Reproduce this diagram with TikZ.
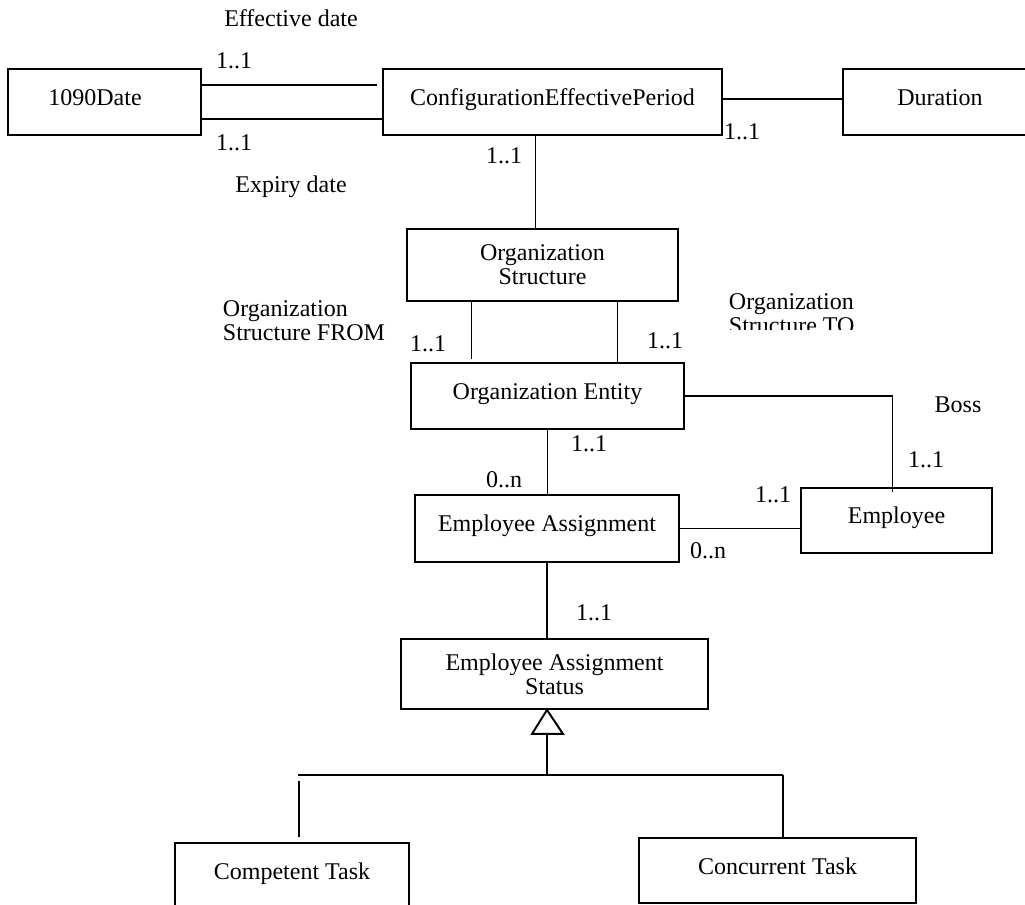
\documentclass[tikz,border=0pt]{standalone}
\usepackage{fontspec}
\setmainfont{Liberation Serif}
\usepackage{tikz}
\usetikzlibrary{calc}
\tikzset{
  box/.style={draw, inner sep=0pt, text height=0.33cm, text depth=0.19cm},
  tbox/.style={draw, inner sep=0pt, align=center},
  mult/.style={inner sep=0pt},
  role/.style={inner sep=0pt, align=left, anchor=west},
  gen/.style={draw, fill=white, line join=miter}
}

\begin{document}
\begin{tikzpicture}[x=0.02cm, y=-0.02cm, line width=1.1pt,
    font=\fontsize{13.66}{13.5}\selectfont]
  \useasboundingbox (0,0) rectangle (1025,905);
  \clip (0,0) rectangle (1025,905);

  % classes
  \node[box, minimum width=3.86cm, minimum height=1.32cm] (date) at (104.5,102) {1090Date\hspace*{0.38cm}};
  \node[box, minimum width=6.78cm, minimum height=1.32cm] (period) at (552.5,102) {ConfigurationEffectivePeriod};
  \node[box, minimum width=3.88cm, minimum height=1.32cm] (duration) at (940,102) {Duration};
  \node[tbox, minimum width=5.42cm, minimum height=1.44cm] (orgstruct) at (542.5,265) {Organization\\Structure};
  \node[box, minimum width=5.46cm, minimum height=1.32cm] (orgentity) at (547.5,396) {Organization Entity};
  \node[box, minimum width=3.82cm, minimum height=1.30cm] (employee) at (896.5,520.5) {Employee};
  \node[box, minimum width=5.28cm, minimum height=1.34cm] (assign) at (547,528.5) {Employee Assignment};
  \node[tbox, minimum width=6.14cm, minimum height=1.40cm] (status) at (554.5,674) {Employee Assignment\\Status};
  \node[box, minimum width=4.68cm, minimum height=1.30cm] (competent) at (292,875.5) {Competent Task};
  \node[box, minimum width=5.54cm, minimum height=1.30cm] (concurrent) at (777.5,870.5) {Concurrent Task};

  % associations
  \draw[shorten >=0.1cm] ($(date.east)+(0,-17)$) -- ($(period.west)+(0,-17)$);
  \draw ($(date.east)+(0,17)$) -- ($(period.west)+(0,17)$);
  \draw ($(period.east)+(0,-3)$) -- ($(duration.west)+(0,-3)$);
  \draw ($(period.south)+(-17,0)$) coordinate (p) -- (p |- orgstruct.north);
  \draw[shorten >=0.06cm] ($(orgstruct.south)+(-71,0)$) coordinate (f) -- (f |- orgentity.north);
  \draw ($(orgstruct.south)+(75,0)$) coordinate (t) -- ($(t |- orgentity.north)+(0,2)$);
  \draw (orgentity.east) -| ($(employee.north)+(-4,5)$);
  \draw (orgentity.south) -- (orgentity.south |- assign.north);
  \draw (assign.east) -- (assign.east -| employee.west);
  \draw (assign.south) -- (assign.south |- status.north);

  % generalization
  \coordinate (apex) at (assign.south |- status.south);
  \coordinate (barl) at (298,775);
  \coordinate (barr) at (783,775);
  \draw[gen] (apex) -- ++(-15,24) -- ++(31,0) -- cycle;
  \draw ($(apex)+(0,24)$) -- (apex |- barl);
  \draw (barl) -- (barr);
  \draw (barr) -- (barr |- concurrent.north);
  \draw[shorten <=0.12cm, shorten >=0.1cm] ($(barl)+(1,0)$) coordinate (c) -- (c |- competent.north);

  % roles and multiplicities
  \node (eff) at (291,18) {Effective date};
  \node (exp) at (291,187) {Expiry date};
  \node[mult] (m-eff) at (234,61) {1..1};
  \node[mult] (m-exp) at (234,143) {1..1};
  \node[mult] (m-dur) at (742,132) {1..1};
  \node[mult] (m-per) at (504,156) {1..1};
  \node[role] (from) at (222,321) {Organization\\Structure FROM};
  \node[mult] (m-from) at (428,344) {1..1};
  \node[mult] (m-to) at (665,341) {1..1};
  \begin{scope}
    \clip (700,280) rectangle (900,330);
    \node[role] (to) at (728,314) {Organization\\Structure TO};
  \end{scope}
  \node (boss) at (958,405) {Boss};
  \node[mult] (m-boss) at (926,460) {1..1};
  \node[mult] (m-ent) at (589,444) {1..1};
  \node[mult] (m-asg) at (504,480) {0..n};
  \node[mult] (m-emp) at (773,495) {1..1};
  \node[mult] (m-emp2) at (708,551) {0..n};
  \node[mult] (m-sts) at (594,613) {1..1};
\end{tikzpicture}
\end{document}
